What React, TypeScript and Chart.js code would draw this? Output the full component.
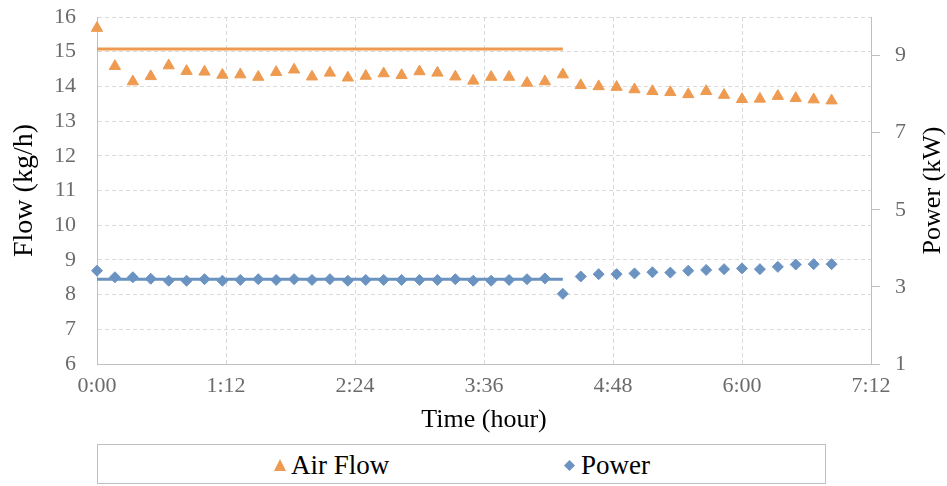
import React, { useEffect, useRef } from "react";
import { Chart, registerables } from "chart.js";

Chart.register(...registerables);

const times = [0, 10, 20, 30, 40, 50, 60, 70, 80, 90, 100, 110, 120, 130, 140, 150, 160, 170, 180, 190, 200, 210, 220, 230, 240, 250, 260, 270, 280, 290, 300, 310, 320, 330, 340, 350, 360, 370, 380, 390, 400, 410];
const airFlow = [15.68, 14.58, 14.14, 14.29, 14.6, 14.44, 14.42, 14.33, 14.34, 14.27, 14.41, 14.48, 14.28, 14.39, 14.25, 14.3, 14.37, 14.32, 14.43, 14.39, 14.28, 14.16, 14.27, 14.27, 14.1, 14.14, 14.34, 14.03, 14.0, 13.98, 13.91, 13.86, 13.83, 13.77, 13.86, 13.75, 13.63, 13.64, 13.72, 13.66, 13.62, 13.59];
const power = [3.42, 3.25, 3.25, 3.21, 3.16, 3.16, 3.2, 3.16, 3.18, 3.2, 3.18, 3.2, 3.18, 3.2, 3.16, 3.18, 3.18, 3.18, 3.18, 3.18, 3.2, 3.16, 3.16, 3.18, 3.2, 3.22, 2.82, 3.27, 3.33, 3.33, 3.35, 3.38, 3.37, 3.42, 3.44, 3.46, 3.48, 3.46, 3.52, 3.58, 3.59, 3.59];
const refLineTimes = [0, 260];
const airFlowRef = [15.08, 15.08];
const powerRef = [3.2, 3.2];
const xTicks = [0, 72, 144, 216, 288, 360, 432];
const leftTicks = [6, 7, 8, 9, 10, 11, 12, 13, 14, 15, 16];
const rightTicks = [1, 3, 5, 7, 9];

const ORANGE = "#EE9A50";
const BLUE = "#6A93C2";
const GRID = "#d9d9d9";
const AXIS = "#bfbfbf";
const TICK = "#6b6b6b";
const FONT = "'Liberation Serif', 'Times New Roman', serif";

const fmt = (m: number) => `${Math.floor(m / 60)}:${String(Math.round(m % 60)).padStart(2, "0")}`;

const rightTitle = {
  id: "rightTitle",
  afterDraw(chart: any) {
    const s = chart.scales.y1;
    const ca = chart.chartArea;
    const ctx = chart.ctx;
    ctx.save();
    ctx.translate(s.right - 14, (ca.top + ca.bottom) / 2);
    ctx.rotate(-Math.PI / 2);
    ctx.textAlign = "center";
    ctx.textBaseline = "middle";
    ctx.fillStyle = "#000";
    ctx.font = `26px ${FONT}`;
    ctx.fillText("Power (kW)", 0, 0);
    ctx.restore();
  },
};

export default function App() {
  const ref = useRef<HTMLCanvasElement>(null);
  useEffect(() => {
    document.body.style.margin = "0";
    const chart = new Chart(ref.current!, {
      type: "scatter",
      data: {
        datasets: [
          {
            label: "Air Flow ref",
            data: refLineTimes.map((x, i) => ({ x, y: airFlowRef[i] })),
            showLine: true,
            borderColor: ORANGE,
            borderWidth: 3,
            pointRadius: 0,
            yAxisID: "y",
          },
          {
            label: "Power ref",
            data: refLineTimes.map((x, i) => ({ x, y: powerRef[i] })),
            showLine: true,
            borderColor: BLUE,
            borderWidth: 3,
            pointRadius: 0,
            yAxisID: "y1",
          },
          {
            label: "Air Flow",
            data: times.map((x, i) => ({ x, y: airFlow[i] })),
            pointStyle: "triangle",
            pointRadius: 6.5,
            backgroundColor: ORANGE,
            borderColor: ORANGE,
            borderWidth: 1,
            yAxisID: "y",
            clip: false,
          },
          {
            label: "Power",
            data: times.map((x, i) => ({ x, y: power[i] })),
            pointStyle: "rectRot",
            pointRadius: 5.5,
            backgroundColor: BLUE,
            borderColor: BLUE,
            borderWidth: 1,
            yAxisID: "y1",
            clip: false,
          },
        ],
      },
      options: {
        animation: false,
        responsive: false,
        layout: { padding: { top: 17, left: 0, right: 0, bottom: 0 } },
        plugins: { legend: { display: false }, tooltip: { enabled: false } },
        scales: {
          x: {
            type: "linear",
            min: 0,
            max: 432,
            afterBuildTicks: (axis: any) => {
              axis.ticks = xTicks.map((v) => ({ value: v }));
            },
            afterFit: (s: any) => {
              s.height = 76;
              s.paddingLeft = 0;
              s.paddingRight = 0;
            },
            ticks: {
              callback: (v: any) => fmt(Number(v)),
              font: { family: FONT, size: 22 },
              color: TICK,
              padding: 9,
              maxRotation: 0,
            },
            grid: {
              color: (c: any) => (c.index === 0 || c.index === xTicks.length - 1 ? "rgba(0,0,0,0)" : GRID),
              drawTicks: false,
            },
            border: { color: AXIS, dash: [4, 3] },
            title: {
              display: true,
              text: "Time (hour)",
              color: "#000",
              font: { family: FONT, size: 26 },
              padding: { top: 0, bottom: 4 },
            },
          },
          y: {
            position: "left",
            min: 6,
            max: 16,
            afterBuildTicks: (axis: any) => {
              axis.ticks = leftTicks.map((v) => ({ value: v }));
            },
            afterFit: (s: any) => {
              s.width = 97;
              s.paddingTop = 0;
              s.paddingBottom = 0;
            },
            ticks: {
              font: { family: FONT, size: 22 },
              color: TICK,
              padding: 21,
            },
            grid: {
              color: (c: any) => (c.index === 0 ? "rgba(0,0,0,0)" : GRID),
              drawTicks: false,
            },
            border: { color: AXIS, dash: [4, 3] },
            title: {
              display: true,
              text: "Flow (kg/h)",
              color: "#000",
              font: { family: FONT, size: 28 },
              padding: { top: 8, bottom: 0 },
            },
          },
          y1: {
            position: "right",
            min: 1,
            max: 10,
            afterBuildTicks: (axis: any) => {
              axis.ticks = rightTicks.map((v) => ({ value: v }));
            },
            afterFit: (s: any) => {
              s.width = 76;
              s.paddingTop = 0;
              s.paddingBottom = 0;
            },
            ticks: {
              font: { family: FONT, size: 22 },
              color: TICK,
              padding: 15,
            },
            grid: {
              drawOnChartArea: false,
              drawTicks: true,
              tickLength: 9,
              color: AXIS,
            },
            border: { color: AXIS },
          },
        },
      },
      plugins: [rightTitle],
    } as any);
    return () => chart.destroy();
  }, []);

  const legendText: React.CSSProperties = { fontFamily: FONT, fontSize: 27, color: "#000", lineHeight: 1 };
  return (
    <div style={{ position: "relative", width: 947, height: 486 }}>
      <canvas ref={ref} width={947} height={440} style={{ display: "block" }} />
      <div
        style={{
          position: "absolute",
          left: 97,
          top: 444,
          width: 729,
          height: 40,
          border: `1px solid ${AXIS}`,
          boxSizing: "border-box",
        }}
      >
        <div style={{ position: "absolute", left: 176, top: 0, height: 40, display: "flex", alignItems: "center" }}>
          <svg width="12" height="12" style={{ marginRight: 5 }}>
            <polygon points="6,0 12,12 0,12" fill={ORANGE} />
          </svg>
          <span style={legendText}>Air Flow</span>
        </div>
        <div style={{ position: "absolute", left: 466, top: 0, height: 40, display: "flex", alignItems: "center" }}>
          <svg width="11" height="11" style={{ marginRight: 6 }}>
            <polygon points="5.5,0 11,5.5 5.5,11 0,5.5" fill={BLUE} />
          </svg>
          <span style={legendText}>Power</span>
        </div>
      </div>
    </div>
  );
}
